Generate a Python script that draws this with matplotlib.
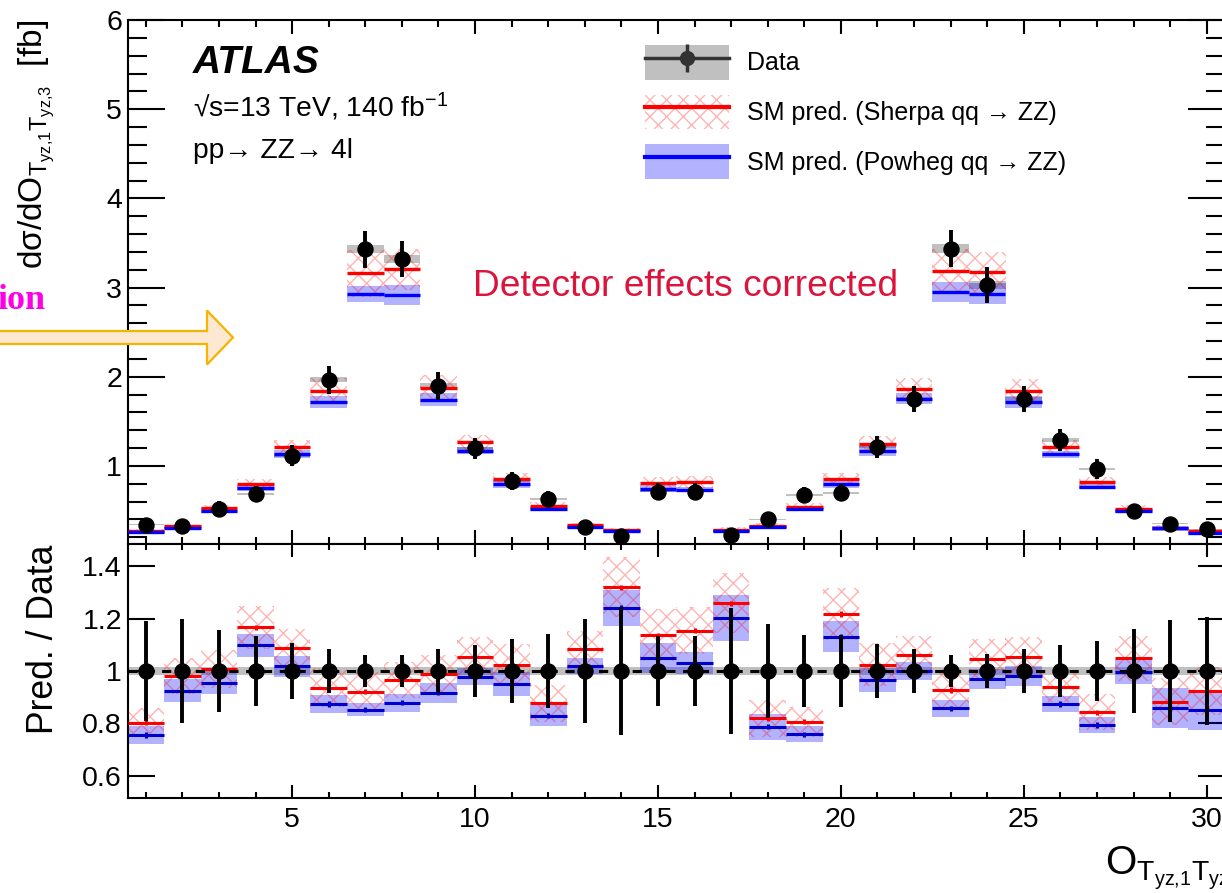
import numpy as np
import matplotlib
matplotlib.use("Agg")
import matplotlib.pyplot as plt
from matplotlib.patches import Patch, FancyArrow
from matplotlib.lines import Line2D
from matplotlib.legend_handler import HandlerTuple
from matplotlib.ticker import MultipleLocator, FixedLocator, NullLocator

plt.rcParams['font.family'] = 'Liberation Sans'
plt.rcParams['mathtext.fontset'] = 'custom'
plt.rcParams['mathtext.rm'] = 'Liberation Sans'
plt.rcParams['mathtext.it'] = 'Liberation Sans:italic'
plt.rcParams['mathtext.bf'] = 'Liberation Sans:bold'
plt.rcParams['hatch.linewidth'] = 1.0

# unfolded cross section per bin [fb]
bins = np.arange(1, 31)
data = np.array([0.339, 0.327, 0.521, 0.686, 1.115, 1.964, 3.43, 3.317, 1.90, 1.198,
                 0.835, 0.626, 0.313, 0.215, 0.712, 0.712, 0.226, 0.40, 0.675, 0.70,
                 1.213, 1.751, 3.436, 3.029, 1.751, 1.291, 0.966, 0.495, 0.35, 0.29])
# relative stat. uncertainty of data
data_err = np.array([0.19, 0.20, 0.157, 0.135, 0.107, 0.082, 0.061, 0.061, 0.083, 0.10,
                     0.122, 0.142, 0.20, 0.245, 0.135, 0.135, 0.24, 0.181, 0.136, 0.136,
                     0.102, 0.085, 0.061, 0.065, 0.085, 0.099, 0.114, 0.16, 0.193, 0.207])
data_sys = 0.014

# predictions divided by data
sherpa_ratio = np.array([0.803, 0.981, 1.008, 1.166, 1.086, 0.937, 0.921, 0.966, 0.987, 1.055,
                         1.023, 0.877, 1.083, 1.319, 1.136, 1.154, 1.258, 0.82, 0.807, 1.217,
                         1.023, 1.062, 0.928, 1.047, 1.052, 0.94, 0.843, 1.048, 0.883, 0.924])
sherpa_unc = np.array([0.055, 0.067, 0.072, 0.083, 0.073, 0.073, 0.076, 0.07, 0.074, 0.073,
                       0.08, 0.07, 0.071, 0.114, 0.099, 0.091, 0.114, 0.07, 0.057, 0.098,
                       0.082, 0.073, 0.07, 0.075, 0.076, 0.057, 0.069, 0.085, 0.09, 0.09])
powheg_ratio = np.array([0.756, 0.924, 0.956, 1.098, 1.019, 0.874, 0.853, 0.879, 0.917, 0.978,
                         0.95, 0.83, 1.019, 1.24, 1.048, 1.032, 1.202, 0.788, 0.759, 1.131,
                         0.966, 1.0, 0.858, 0.968, 0.981, 0.874, 0.794, 0.996, 0.858, 0.851])
powheg_unc = np.array([0.035, 0.044, 0.044, 0.043, 0.04, 0.034, 0.026, 0.035, 0.038, 0.033,
                       0.045, 0.04, 0.03, 0.068, 0.057, 0.042, 0.089, 0.05, 0.03, 0.058,
                       0.047, 0.035, 0.032, 0.038, 0.038, 0.03, 0.03, 0.046, 0.076, 0.076])
mc_stat = 0.01

labels = ['Data', 'SM pred. (Sherpa qq → ZZ)', 'SM pred. (Powheg qq → ZZ)']

RED = '#ff0000'
BLUE = '#0000ff'
BLUE_BAND = (0, 0, 1, 0.3)
HATCH = (1, 0, 0, 0.3)
GREY = '#c0c0c0'

W, H = 1222, 893
fig = plt.figure(figsize=(W / 100, H / 100), dpi=100)


def box(x0, y0, x1, y1):
    return [x0 / W, 1 - y1 / H, (x1 - x0) / W, (y1 - y0) / H]


ax = fig.add_axes(box(127.5, 20, 1225, 543.5))
rax = fig.add_axes(box(127.5, 544, 1225, 798), sharex=ax)


def draw_panel(a, scale, ref, sh, pw, stat, lw, pw_color):
    a.bar(bins, 2 * ref * data_sys, bottom=ref * (1 - data_sys), width=1.0, color=GREY, lw=0, zorder=1)
    a.bar(bins, 2 * scale * powheg_unc, bottom=pw - scale * powheg_unc, width=1.0,
          color=BLUE_BAND, lw=0, zorder=2)
    a.bar(bins, 2 * scale * sherpa_unc, bottom=sh - scale * sherpa_unc, width=1.0,
          facecolor='none', edgecolor=HATCH, hatch='xx', lw=0, zorder=3)
    a.errorbar(bins, sh, xerr=0.5, yerr=stat, fmt='none', ecolor=RED,
               elinewidth=lw, capsize=0, zorder=4)
    a.errorbar(bins, pw, xerr=0.5, yerr=stat, fmt='none', ecolor=pw_color,
               elinewidth=lw, capsize=0, zorder=4)
    a.errorbar(bins, ref, yerr=ref * data_err, fmt='o', color='black', ms=10.8,
               elinewidth=2.8, capsize=0, zorder=6)


# upper panel: cross sections
draw_panel(ax, data, data, data * sherpa_ratio, data * powheg_ratio, 0, 2.4, BLUE)
# lower panel: ratio to data
draw_panel(rax, 1.0, np.ones_like(data), sherpa_ratio, powheg_ratio, mc_stat, 2.2, '#0000cc')
rax.axhline(1.0, color='black', ls=(0, (3, 2.5)), lw=2.2, zorder=5)

ax.set_xlim(0.5, 30.5)
ax.set_ylim(0.13, 6)
rax.set_ylim(0.516, 1.484)

ax.yaxis.set_major_locator(FixedLocator([1, 2, 3, 4, 5, 6]))
ax.yaxis.set_minor_locator(MultipleLocator(0.2))
ax.xaxis.set_major_locator(MultipleLocator(5))
ax.xaxis.set_minor_locator(MultipleLocator(1))
rax.yaxis.set_major_locator(FixedLocator([0.6, 0.8, 1.0, 1.2, 1.4]))
rax.yaxis.set_minor_locator(NullLocator())
rax.set_yticklabels(['0.6', '0.8', '1', '1.2', '1.4'])

for a in (ax, rax):
    a.tick_params(which='both', direction='in', top=True, right=True, width=1.5,
                  labelsize=20.5)
    a.tick_params(axis='y', pad=4)
    a.tick_params(axis='x', pad=6.5)
    for s in a.spines.values():
        s.set_linewidth(1.5)
ax.tick_params(axis='y', which='major', length=26.6)
ax.tick_params(axis='y', which='minor', length=13.7)
ax.tick_params(axis='x', which='major', length=10)
ax.tick_params(axis='x', which='minor', length=5)
ax.tick_params(labelbottom=False)
rax.tick_params(axis='y', which='major', length=19.4)
rax.tick_params(axis='x', which='major', length=9.4)
rax.tick_params(axis='x', which='minor', length=4.5)

# legend
handles = [
    (Patch(facecolor=GREY, lw=0),
     Line2D([], [], color='#333333', lw=2.5, marker='o', ms=10),
     Line2D([], [], ls='none', color='#333333', marker='|', ms=20, mew=2.5)),
    (Patch(facecolor='none', edgecolor=HATCH, hatch='xx', lw=0),
     Line2D([], [], color=RED, lw=3)),
    (Patch(facecolor=BLUE_BAND, lw=0),
     Line2D([], [], color=BLUE, lw=3)),
]
ax.legend(handles, labels, handler_map={tuple: HandlerTuple(ndivide=1, pad=0)},
          loc='upper left', bbox_to_anchor=((645 - 127.5) / 1097.5, 1 - (45 - 20) / 523.5),
          frameon=False, fontsize=18, handlelength=3.36, handleheight=1.75,
          handletextpad=0.72, labelspacing=0.6, borderpad=0, borderaxespad=0)

ax.text(0.0597, 0.8988, 'ATLAS', transform=ax.transAxes, fontsize=28,
        fontweight='bold', fontstyle='italic', va='baseline')
ax.text(0.0597, 0.8147, '√s=13 TeV, 140 fb$^{\\mathrm{-1}}$',
        transform=ax.transAxes, fontsize=20.3, va='baseline')
ax.text(0.0597, 0.7364, 'pp→ ZZ→ 4l', transform=ax.transAxes,
        fontsize=20.3, va='baseline')
ax.text(0.3148, 0.4728, 'Detector effects corrected', transform=ax.transAxes,
        fontsize=26.7, color='#dc143c', va='baseline')

# axis titles
sub = r'$_{\mathrm{T}_{\mathrm{yz{,}1}}\mathrm{T}_{\mathrm{yz{,}3}}}$'
fig.text(42 / W, 1 - 20 / H, 'dσ/dO' + sub + '  [fb]',
         rotation=90, rotation_mode='anchor', ha='right', va='baseline', fontsize=24)
fig.text(53 / W, 1 - 545 / H, 'Pred. / Data', rotation=90, rotation_mode='anchor',
         ha='right', va='baseline', fontsize=25.6)
fig.text(1105 / W, 1 - 875 / H, 'O' + sub, ha='left', va='baseline', fontsize=29)

# pointer on the left
arrow = FancyArrow(-0.2, (H - 337.5) / 100, 2.53, 0, width=0.13, head_width=0.54,
                   head_length=0.26, length_includes_head=True,
                   transform=fig.dpi_scale_trans, facecolor='#fde8d2',
                   edgecolor='#f4b400', lw=1.6, zorder=10)
fig.add_artist(arrow)
fig.text(45 / W, 1 - 309 / H, 'ion', ha='right', va='baseline', color='#ff00e6',
         fontsize=26, fontweight='bold', family='Liberation Serif')

fig.savefig('out.png', dpi=100)
